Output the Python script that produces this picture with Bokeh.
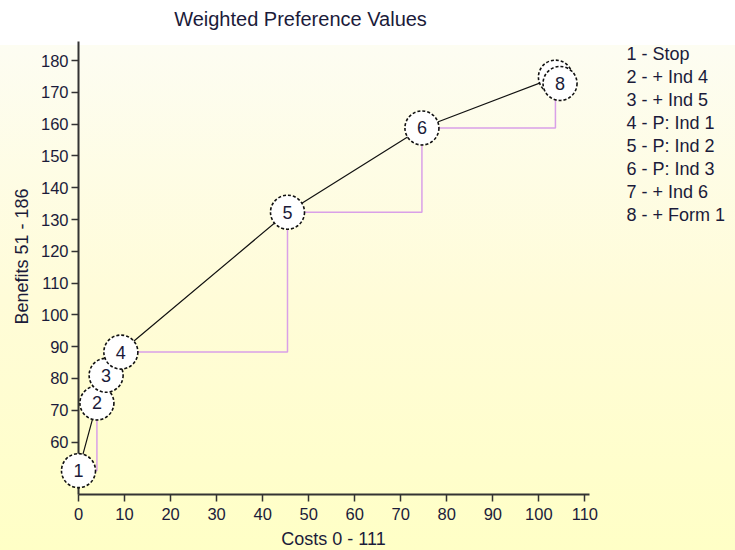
from bokeh.plotting import figure
from bokeh.models import Range1d, FixedTicker, ColumnDataSource, CDSView, IndexFilter
from bokeh.core.properties import value
from bokeh.embed import file_html
from bokeh.resources import INLINE

# ---- data ----
step_labels = ["1", "2", "3", "4", "5", "6", "7", "8"]
costs = [0.0, 4.0, 6.0, 9.2, 45.4, 74.6, 103.6, 104.6]
benefits = [51.0, 72.3, 81.0, 88.3, 132.3, 158.8, 174.8, 172.8]
legend_texts = ["1 - Stop", "2 - + Ind 4", "3 - + Ind 5", "4 - P: Ind 1",
                "5 - P: Ind 2", "6 - P: Ind 3", "7 - + Ind 6", "8 - + Form 1"]
x_ticks = [0, 10, 20, 30, 40, 50, 60, 70, 80, 90, 100, 110]
y_ticks = [60, 70, 80, 90, 100, 110, 120, 130, 140, 150, 160, 170, 180]
title_text = "Weighted Preference Values"
x_label = "Costs 0 - 111"
y_label = "Benefits 51 - 186"

FONT = "Liberation Sans"
TXT = "#1b1b3a"

# layout (pixels)
W, H = 735, 550
LEFT, RIGHT, TOP, BOTTOM = 78, 146, 41, 56
X0, X1, Y0, Y1 = 0, 111, 43.5, 186
FW, FH = W - LEFT - RIGHT, H - TOP - BOTTOM


def px_to_data(px, py):
    return (X0 + (px - LEFT) * (X1 - X0) / FW,
            Y0 + (H - BOTTOM - py) * (Y1 - Y0) / FH)


p = figure(width=W, height=H, output_backend="svg", toolbar_location=None,
           title=None, x_range=Range1d(X0, X1), y_range=Range1d(Y0, Y1),
           min_border_left=LEFT, min_border_right=RIGHT, min_border_top=TOP,
           min_border_bottom=BOTTOM)
p.background_fill_color = None
p.border_fill_color = None
p.outline_line_color = None
p.styles = {"background": "linear-gradient(to bottom, #ffffff 0px, #ffffff 45px, "
                          "#fdfdf2 45px, #fffcd8 300px, #ffffc6 550px)"}
p.grid.visible = False

for ax in (p.xaxis[0], p.yaxis[0]):
    ax.axis_line_width = 2
    ax.axis_line_color = "#333333"
    ax.major_tick_line_width = 1.5
    ax.major_tick_line_color = "#333333"
    ax.major_tick_out = 7
    ax.major_tick_in = 0
    ax.minor_tick_line_color = None
    ax.major_label_text_font = FONT
    ax.major_label_text_font_size = "16.5px"
    ax.major_label_text_color = TXT
p.xaxis.ticker = FixedTicker(ticks=x_ticks)
p.yaxis.ticker = FixedTicker(ticks=y_ticks)
p.xaxis.major_label_standoff = 6
p.yaxis.major_label_standoff = 3

# pink step lines
sx, sy = [], []
for i in range(len(costs) - 1):
    sx += [costs[i], costs[i + 1], costs[i + 1]]
    sy += [benefits[i], benefits[i], benefits[i + 1]]
p.line(sx, sy, line_color="#d9a0e8", line_width=1.5, level="overlay")

# black connecting line
p.line(costs, benefits, line_color="#111111", line_width=1.2, level="overlay")

src = ColumnDataSource(dict(x=costs, y=benefits, t=step_labels))
for i in range(len(costs)):
    view = CDSView(filter=IndexFilter([i]))
    p.scatter("x", "y", source=src, view=view, marker="circle", size=34,
              fill_color="white", line_color="#111111", line_width=1.6,
              line_dash="3 2", level="overlay")
    p.text("x", "y", text="t", source=src, view=view, text_align="center",
           text_baseline="middle", text_font=value(FONT), text_font_size="18px",
           text_color=TXT, level="overlay")


def add_text(px, py, text, size, angle=0.0, align="center"):
    x, y = px_to_data(px, py)
    p.text([x], [y], text=[text], angle=angle, text_align=align,
           text_baseline="middle", text_font=value(FONT), text_font_size=size,
           text_color=TXT, level="overlay")


add_text(300, 18, title_text, "20px")
add_text(333, 538, x_label, "18px")
add_text(21.5, 256, y_label, "18px", angle=1.5707963)
for i, t in enumerate(legend_texts):
    add_text(626, 53 + 23.1 * i, t, "18px", align="left")

open("out.html", "w").write(file_html(p, INLINE))
